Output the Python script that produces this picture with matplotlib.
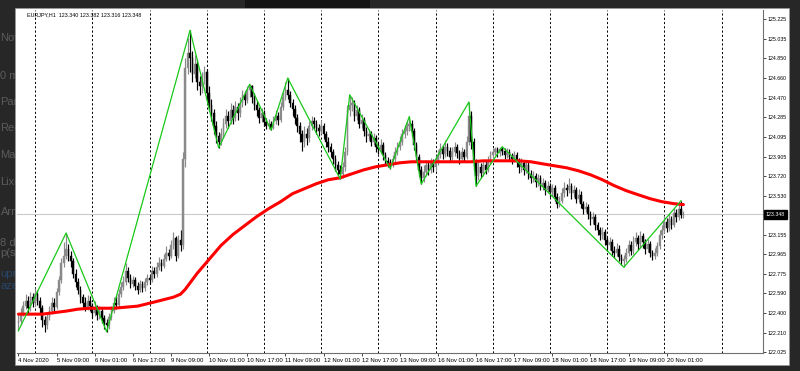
import matplotlib
matplotlib.use("Agg")
import matplotlib.pyplot as plt
from matplotlib.patches import Rectangle
from matplotlib.transforms import blended_transform_factory
import numpy as np

# ---------------- data ----------------
header_text = "EURJPY,H1  123.340 123.382 123.316 123.348"
last_price = 123.348

opens = [
    122.30, 122.32, 122.40, 122.47, 122.52, 122.45, 122.55, 122.50, 122.58, 122.52,
    122.45, 122.33, 122.28, 122.36, 122.42, 122.50, 122.46, 122.60, 122.72, 122.88,
    122.95, 123.02, 122.95, 122.90, 122.78, 122.70, 122.62, 122.55, 122.50, 122.46,
    122.52, 122.47, 122.40, 122.45, 122.38, 122.42, 122.35, 122.30, 122.28, 122.36,
    122.42, 122.50, 122.48, 122.58, 122.65, 122.70, 122.80, 122.74, 122.68, 122.72,
    122.66, 122.62, 122.68, 122.64, 122.70, 122.74, 122.72, 122.80, 122.78, 122.84,
    122.88, 122.85, 122.92, 122.98, 122.95, 123.05, 123.12, 122.95, 123.10, 123.05,
    123.88, 124.76, 124.90, 124.85, 124.70, 124.80, 124.62, 124.58, 124.66, 124.72,
    124.52, 124.40, 124.32, 124.20, 124.10, 124.05, 124.12, 124.22, 124.30, 124.25,
    124.35, 124.28, 124.38, 124.32, 124.42, 124.50, 124.45, 124.55, 124.58, 124.48,
    124.40, 124.35, 124.28, 124.32, 124.24, 124.20, 124.22, 124.18, 124.25, 124.30,
    124.26, 124.38, 124.48, 124.55, 124.50, 124.42, 124.36, 124.28, 124.20, 124.12,
    124.05, 124.12, 124.08, 124.20, 124.25, 124.22, 124.18, 124.15, 124.20, 124.12,
    124.05, 124.00, 123.95, 123.88, 123.82, 123.78, 123.74, 123.80, 123.95, 124.35,
    124.40, 124.42, 124.30, 124.35, 124.22, 124.26, 124.15, 124.10, 124.12, 124.05,
    124.08, 124.00, 123.98, 124.02, 123.92, 123.86, 123.84, 123.82, 123.88, 123.95,
    124.00, 124.05, 124.12, 124.15, 124.20, 124.22, 124.15, 124.02, 123.90, 123.78,
    123.70, 123.76, 123.82, 123.78, 123.84, 123.80, 123.86, 123.92, 123.98, 123.93,
    124.00, 123.96, 123.90, 123.95, 124.00, 123.94, 123.88, 123.95, 123.90, 124.05,
    124.30, 124.05, 123.85, 123.72, 123.80, 123.75, 123.82, 123.78, 123.86, 123.92,
    123.95, 123.98, 123.94, 123.98, 123.96, 123.92, 123.95, 123.90, 123.88, 123.92,
    123.85, 123.80, 123.84, 123.78, 123.82, 123.74, 123.70, 123.72, 123.66, 123.70,
    123.62, 123.65, 123.58, 123.62, 123.56, 123.60, 123.52, 123.45, 123.48, 123.55,
    123.60, 123.58, 123.62, 123.55, 123.58, 123.50, 123.54, 123.45, 123.40, 123.42,
    123.35, 123.30, 123.32, 123.25, 123.20, 123.15, 123.18, 123.10, 123.05, 123.08,
    123.00, 122.98, 123.02, 122.94, 122.90, 122.92, 122.98, 123.05, 123.00, 123.08,
    123.12, 123.06, 123.14, 123.08, 123.02, 123.06, 122.98, 122.95, 122.98, 123.04,
    123.15, 123.20, 123.28, 123.22, 123.30, 123.25, 123.36, 123.32, 123.40, 123.340,
]

highs = [
    122.40, 122.45, 122.52, 122.58, 122.56, 122.60, 122.59, 122.64, 122.62, 122.55,
    122.48, 122.37, 122.40, 122.47, 122.55, 122.54, 122.64, 122.76, 122.93, 123.08,
    123.17, 123.06, 123.00, 122.93, 122.82, 122.74, 122.66, 122.58, 122.55, 122.57,
    122.56, 122.50, 122.52, 122.48, 122.47, 122.45, 122.38, 122.34, 122.40, 122.47,
    122.55, 122.56, 122.63, 122.70, 122.76, 122.88, 122.84, 122.78, 122.76, 122.75,
    122.70, 122.72, 122.71, 122.74, 122.78, 122.77, 122.85, 122.84, 122.89, 122.94,
    122.92, 122.97, 123.04, 123.02, 123.10, 123.18, 123.14, 123.15, 123.20, 123.95,
    124.85, 125.05, 125.12, 124.92, 124.88, 124.84, 124.68, 124.72, 124.78, 124.75,
    124.58, 124.46, 124.36, 124.25, 124.14, 124.18, 124.28, 124.36, 124.34, 124.42,
    124.40, 124.44, 124.42, 124.48, 124.55, 124.54, 124.58, 124.60, 124.59, 124.52,
    124.44, 124.38, 124.37, 124.35, 124.28, 124.27, 124.25, 124.30, 124.35, 124.33,
    124.43, 124.53, 124.62, 124.66, 124.54, 124.46, 124.40, 124.31, 124.24, 124.16,
    124.20, 124.18, 124.25, 124.30, 124.29, 124.26, 124.22, 124.26, 124.23, 124.15,
    124.09, 124.04, 123.98, 123.92, 123.86, 123.82, 123.85, 124.00, 124.40, 124.50,
    124.48, 124.45, 124.40, 124.38, 124.31, 124.29, 124.19, 124.17, 124.15, 124.13,
    124.11, 124.05, 124.07, 124.05, 123.95, 123.90, 123.88, 123.92, 124.00, 124.05,
    124.10, 124.17, 124.21, 124.25, 124.29, 124.26, 124.18, 124.05, 123.93, 123.81,
    123.82, 123.87, 123.86, 123.89, 123.88, 123.91, 123.97, 124.04, 124.02, 124.06,
    124.04, 124.00, 124.00, 124.05, 124.03, 123.97, 124.00, 123.98, 124.10, 124.43,
    124.34, 124.08, 123.88, 123.85, 123.84, 123.87, 123.86, 123.91, 123.96, 123.99,
    124.00, 124.00, 124.00, 124.00, 123.99, 123.99, 123.98, 123.94, 123.96, 123.95,
    123.89, 123.89, 123.87, 123.87, 123.85, 123.78, 123.77, 123.75, 123.74, 123.73,
    123.70, 123.68, 123.67, 123.65, 123.64, 123.63, 123.55, 123.53, 123.60, 123.66,
    123.64, 123.70, 123.65, 123.63, 123.61, 123.59, 123.57, 123.48, 123.47, 123.45,
    123.38, 123.37, 123.35, 123.28, 123.23, 123.23, 123.21, 123.13, 123.13, 123.11,
    123.04, 123.07, 123.05, 122.97, 122.96, 123.03, 123.10, 123.09, 123.14, 123.18,
    123.15, 123.19, 123.17, 123.11, 123.11, 123.09, 123.01, 123.03, 123.08, 123.20,
    123.25, 123.33, 123.31, 123.35, 123.33, 123.41, 123.40, 123.44, 123.48, 123.382,
]

lows = [
    122.23, 122.28, 122.37, 122.44, 122.40, 122.42, 122.46, 122.47, 122.48, 122.40,
    122.27, 122.22, 122.25, 122.33, 122.39, 122.42, 122.44, 122.57, 122.69, 122.84,
    122.92, 122.90, 122.84, 122.74, 122.65, 122.58, 122.50, 122.45, 122.42, 122.43,
    122.42, 122.35, 122.37, 122.33, 122.34, 122.30, 122.25, 122.22, 122.25, 122.33,
    122.40, 122.44, 122.46, 122.55, 122.62, 122.67, 122.70, 122.64, 122.65, 122.62,
    122.58, 122.60, 122.60, 122.61, 122.67, 122.68, 122.70, 122.74, 122.75, 122.81,
    122.80, 122.83, 122.90, 122.91, 122.93, 123.02, 122.90, 122.93, 123.00, 123.02,
    123.80, 124.70, 124.72, 124.62, 124.66, 124.55, 124.50, 124.52, 124.60, 124.45,
    124.34, 124.25, 124.12, 124.04, 123.99, 124.02, 124.08, 124.18, 124.18, 124.22,
    124.22, 124.25, 124.26, 124.29, 124.38, 124.40, 124.42, 124.48, 124.42, 124.35,
    124.30, 124.23, 124.24, 124.20, 124.17, 124.17, 124.16, 124.17, 124.22, 124.21,
    124.24, 124.35, 124.45, 124.46, 124.38, 124.30, 124.22, 124.14, 124.05, 123.96,
    124.00, 124.02, 124.05, 124.16, 124.17, 124.12, 124.10, 124.12, 124.07, 124.00,
    123.95, 123.90, 123.83, 123.77, 123.73, 123.69, 123.70, 123.77, 123.92, 124.30,
    124.34, 124.25, 124.26, 124.18, 124.18, 124.10, 124.05, 124.06, 124.01, 124.02,
    123.95, 123.93, 123.94, 123.87, 123.82, 123.80, 123.79, 123.80, 123.85, 123.92,
    123.97, 124.02, 124.08, 124.11, 124.15, 124.10, 123.97, 123.85, 123.72, 123.64,
    123.66, 123.72, 123.73, 123.75, 123.76, 123.77, 123.82, 123.89, 123.88, 123.90,
    123.91, 123.85, 123.87, 123.91, 123.89, 123.83, 123.85, 123.86, 123.88, 124.02,
    123.98, 123.78, 123.62, 123.68, 123.70, 123.72, 123.74, 123.76, 123.83, 123.89,
    123.92, 123.90, 123.91, 123.92, 123.88, 123.89, 123.86, 123.83, 123.85, 123.80,
    123.75, 123.76, 123.73, 123.75, 123.69, 123.65, 123.66, 123.61, 123.62, 123.58,
    123.58, 123.54, 123.55, 123.52, 123.53, 123.48, 123.41, 123.42, 123.46, 123.52,
    123.53, 123.55, 123.50, 123.52, 123.46, 123.47, 123.41, 123.35, 123.37, 123.30,
    123.25, 123.26, 123.20, 123.15, 123.10, 123.11, 123.05, 123.00, 123.01, 122.95,
    122.93, 122.95, 122.90, 122.86, 122.84, 122.89, 122.95, 122.96, 122.97, 123.04,
    123.01, 123.03, 123.03, 122.97, 122.99, 122.94, 122.91, 122.92, 122.95, 123.02,
    123.11, 123.17, 123.18, 123.19, 123.21, 123.23, 123.28, 123.29, 123.31, 123.316,
]

closes = [
    122.32, 122.40, 122.47, 122.52, 122.45, 122.55, 122.50, 122.58, 122.52, 122.45,
    122.33, 122.28, 122.36, 122.42, 122.50, 122.46, 122.60, 122.72, 122.88, 122.95,
    123.02, 122.95, 122.90, 122.78, 122.70, 122.62, 122.55, 122.50, 122.46, 122.52,
    122.47, 122.40, 122.45, 122.38, 122.42, 122.35, 122.30, 122.28, 122.36, 122.42,
    122.50, 122.48, 122.58, 122.65, 122.70, 122.80, 122.74, 122.68, 122.72, 122.66,
    122.62, 122.68, 122.64, 122.70, 122.74, 122.72, 122.80, 122.78, 122.84, 122.88,
    122.85, 122.92, 122.98, 122.95, 123.05, 123.12, 122.95, 123.10, 123.05, 123.88,
    124.76, 124.90, 124.85, 124.70, 124.80, 124.62, 124.58, 124.66, 124.72, 124.52,
    124.40, 124.32, 124.20, 124.10, 124.05, 124.12, 124.22, 124.30, 124.25, 124.35,
    124.28, 124.38, 124.32, 124.42, 124.50, 124.45, 124.55, 124.58, 124.48, 124.40,
    124.35, 124.28, 124.32, 124.24, 124.20, 124.22, 124.18, 124.25, 124.30, 124.26,
    124.38, 124.48, 124.55, 124.50, 124.42, 124.36, 124.28, 124.20, 124.12, 124.05,
    124.12, 124.08, 124.20, 124.25, 124.22, 124.18, 124.15, 124.20, 124.12, 124.05,
    124.00, 123.95, 123.88, 123.82, 123.78, 123.74, 123.80, 123.95, 124.35, 124.40,
    124.42, 124.30, 124.35, 124.22, 124.26, 124.15, 124.10, 124.12, 124.05, 124.08,
    124.00, 123.98, 124.02, 123.92, 123.86, 123.84, 123.82, 123.88, 123.95, 124.00,
    124.05, 124.12, 124.15, 124.20, 124.22, 124.15, 124.02, 123.90, 123.78, 123.70,
    123.76, 123.82, 123.78, 123.84, 123.80, 123.86, 123.92, 123.98, 123.93, 124.00,
    123.96, 123.90, 123.95, 124.00, 123.94, 123.88, 123.95, 123.90, 124.05, 124.30,
    124.05, 123.85, 123.72, 123.80, 123.75, 123.82, 123.78, 123.86, 123.92, 123.95,
    123.98, 123.94, 123.98, 123.96, 123.92, 123.95, 123.90, 123.88, 123.92, 123.85,
    123.80, 123.84, 123.78, 123.82, 123.74, 123.70, 123.72, 123.66, 123.70, 123.62,
    123.65, 123.58, 123.62, 123.56, 123.60, 123.52, 123.45, 123.48, 123.55, 123.60,
    123.58, 123.62, 123.55, 123.58, 123.50, 123.54, 123.45, 123.40, 123.42, 123.35,
    123.30, 123.32, 123.25, 123.20, 123.15, 123.18, 123.10, 123.05, 123.08, 123.00,
    122.98, 123.02, 122.94, 122.90, 122.92, 122.98, 123.05, 123.00, 123.08, 123.12,
    123.06, 123.14, 123.08, 123.02, 123.06, 122.98, 122.95, 122.98, 123.04, 123.15,
    123.20, 123.28, 123.22, 123.30, 123.25, 123.36, 123.32, 123.40, 123.34, 123.348,
]

ma_bars = [0, 10, 20, 25, 30, 40, 50, 55, 60, 65, 68, 70, 75, 80, 85, 90, 95, 100,
           105, 110, 115, 120, 125, 130, 135, 140, 145, 150, 155, 160, 165, 170,
           175, 180, 185, 190, 195, 200, 205, 210, 215, 220, 225, 230, 235, 240,
           245, 250, 255, 260, 265, 270, 275, 279]
ma_values = [122.389, 122.389, 122.418, 122.437, 122.446, 122.446, 122.466, 122.494,
             122.523, 122.552, 122.581, 122.628, 122.782, 122.916, 123.050, 123.155,
             123.242, 123.328, 123.404, 123.471, 123.548, 123.596, 123.644, 123.682,
             123.701, 123.740, 123.778, 123.807, 123.826, 123.845, 123.855, 123.855,
             123.855, 123.855, 123.855, 123.855, 123.864, 123.864, 123.864, 123.864,
             123.855, 123.835, 123.816, 123.797, 123.768, 123.730, 123.682, 123.625,
             123.577, 123.538, 123.500, 123.471, 123.452, 123.443]

zz_bars = [0, 20, 37, 72, 84, 97, 106, 113, 135, 139, 156, 164, 169, 189, 192, 203, 254, 278]
zz_prices = [122.23, 123.17, 122.22, 125.12, 123.99, 124.60, 124.16, 124.66, 123.69,
             124.50, 123.79, 124.29, 123.64, 124.43, 123.62, 124.00, 122.84, 123.48]

xtick_bars = [0, 16, 32, 48, 64, 80, 96, 112, 128, 144, 160, 176, 192, 208, 224, 240, 256, 272]
xtick_labels = ["4 Nov 2020", "5 Nov 09:00", "6 Nov 01:00", "6 Nov 17:00", "9 Nov 09:00",
                "10 Nov 01:00", "10 Nov 17:00", "11 Nov 09:00", "12 Nov 01:00",
                "12 Nov 17:00", "13 Nov 09:00", "16 Nov 01:00", "16 Nov 17:00",
                "17 Nov 09:00", "18 Nov 01:00", "18 Nov 17:00", "19 Nov 09:00",
                "20 Nov 01:00"]
ytick_values = [125.225, 125.035, 124.850, 124.660, 124.470, 124.285, 124.095, 123.905,
                123.720, 123.530, 123.155, 122.965, 122.775, 122.590, 122.400, 122.210,
                122.025]
day_start_bars = [7, 31, 55, 79, 103, 127, 151, 175, 199, 223, 247, 271, 295]

side_panel_texts = ["Nov", "0 m", "Part", "Rec", "Man", "Lixo", "Arm", "8 d", "p(s)", "upra", "azer"]
side_panel_y = [38, 76, 102, 128, 155, 182, 212, 243, 253, 274, 286]
side_panel_colors = ["#5c5c5c"] * 9 + ["#27466c", "#27466c"]

# ---------------- figure ----------------
W, H = 800, 371
FONT = ["Liberation Sans", "DejaVu Sans"]
fig = plt.figure(figsize=(W / 100, H / 100), dpi=100, facecolor="#272727")

# faint UI text behind the chart window (left strip)
for t, y, c in zip(side_panel_texts, side_panel_y, side_panel_colors):
    fig.text(0.5 / W, 1 - y / H, t, fontsize=8, color=c, va="center", ha="left",
             family=FONT, zorder=0.3)

# top dark tab
fig.patches.append(Rectangle((245 / W, 1 - 8 / H), 125 / W, 8 / H, transform=fig.transFigure,
                             facecolor="#141414", edgecolor="none", zorder=0.4))
# white chart window
fig.patches.append(Rectangle((15 / W, 1 - 365 / H), (789 - 15) / W, (365 - 8) / H,
                             transform=fig.transFigure, facecolor="white",
                             edgecolor="#9a9a9a", linewidth=0.5, zorder=0.8))

ax_left, ax_right, ax_top, ax_bot = 17, 763, 9.5, 352.5
ax = fig.add_axes([ax_left / W, 1 - ax_bot / H, (ax_right - ax_left) / W, (ax_bot - ax_top) / H])
ax.set_zorder(1)
ax.set_facecolor("white")

n = len(closes)
x = np.arange(n)
o = np.array(opens); h = np.array(highs); l = np.array(lows); c = np.array(closes)
up = c >= o
col_up, col_dn = "#8a8a8a", "#000000"
colors = np.where(up, col_up, col_dn)

# day separators
for b in day_start_bars:
    ax.axvline(b, color="black", lw=0.7, linestyle=(0, (2.2, 2.2)), zorder=0.5)
# current price line
ax.axhline(last_price, color="#c9c9c9", lw=0.8, zorder=0.6)

# candles
ax.vlines(x, l, h, colors=colors, lw=0.85, zorder=2)
body_lo = np.minimum(o, c)
body_h = np.maximum(np.abs(c - o), 0.006)
ax.bar(x, body_h, bottom=body_lo, width=0.7, color=colors, edgecolor=colors, lw=0.3, zorder=2.1)

# moving average and zigzag
ax.plot(ma_bars, ma_values, color="#ff0000", lw=2.2, zorder=3, solid_capstyle="round",
        solid_joinstyle="round")
ax.plot(zz_bars, zz_prices, color="#19c819", lw=0.9, zorder=4)

ax.set_xlim(-0.6, 312.4)
ax.set_ylim(122.02, 125.32)

for s in ["top", "left"]:
    ax.spines[s].set_visible(False)
for s in ["right", "bottom"]:
    ax.spines[s].set_color("#6f6f6f")
    ax.spines[s].set_linewidth(0.8)

ax.yaxis.tick_right()
ax.set_yticks(ytick_values)
ax.set_yticklabels([f"{v:.3f}" for v in ytick_values], fontsize=3.8, family=FONT)
ax.tick_params(axis="y", direction="out", length=2, width=0.5, pad=1.2, colors="black")

ax.set_xticks(xtick_bars)
ax.set_xticklabels(xtick_labels, fontsize=4.3, family=FONT, ha="left")
ax.tick_params(axis="x", direction="out", length=2.5, width=0.5, pad=1.5, colors="black")

# last price box on axis
tr = blended_transform_factory(ax.transAxes, ax.transData)
ax.text(1.0 + 3.0 / (ax_right - ax_left), last_price, f"{last_price:.3f}", transform=tr,
        fontsize=3.8, family=FONT, color="white", va="center", ha="left", zorder=5,
        clip_on=False,
        bbox=dict(boxstyle="square,pad=0.3", facecolor="black", edgecolor="black"))

# header
fig.text(27 / W, 1 - 15 / H, header_text, fontsize=3.9, family=FONT, color="black",
         va="center", ha="left", zorder=5)

fig.savefig("out.png", dpi=100, facecolor=fig.get_facecolor())
